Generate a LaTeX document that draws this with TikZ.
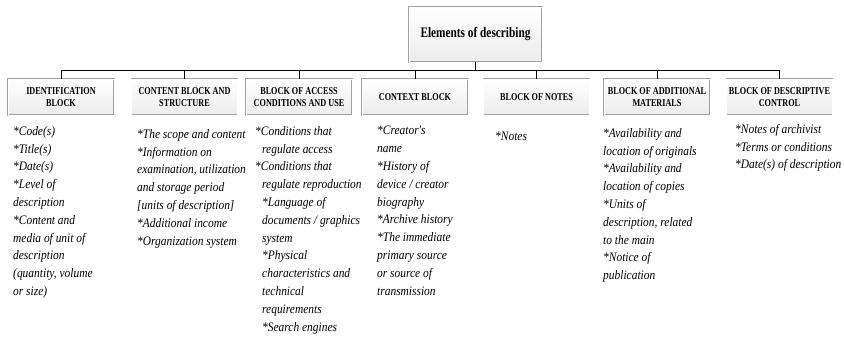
\documentclass[tikz,border=0pt]{standalone}
\usepackage{fontspec}
\setmainfont{Liberation Serif}
\newfontfamily\headfont[FakeStretch=0.78]{Liberation Serif}
\newfontfamily\listfont[FakeStretch=0.88]{Liberation Serif}
\definecolor{boxline}{RGB}{160,160,160}
\definecolor{boxfill}{RGB}{236,236,236}
\usepackage{tikz}
\usetikzlibrary{positioning,calc}

\begin{document}
\begin{tikzpicture}[x=1pt, y=1pt,
    blockbox/.style={draw=boxline, double=white, double distance=0.8pt, top color=white, bottom color=boxfill,
        minimum width=106pt, minimum height=36pt, inner sep=1pt, align=center,
        font=\headfont\fontsize{10.5}{11.5}\selectfont\bfseries},
    itemlist/.style={anchor=north west, inner sep=0pt, align=left,
        font=\listfont\fontsize{13}{17.8}\selectfont\itshape, execute at begin node=\strut}]
    \useasboundingbox (0,0) rectangle (844,337);

    % Root
    \node[blockbox, minimum width=133pt, minimum height=55pt,
        font=\headfont\fontsize{14.5}{16}\selectfont\bfseries] (elem) at (475.5,302.5) {Elements of describing};

    % Seven blocks
    \node[blockbox] (ident) at (61,240) {IDENTIFICATION\\BLOCK};
    \node[blockbox] (content) at (184.5,240) {CONTENT BLOCK AND\\STRUCTURE};
    \node[blockbox] (access) at (299,240) {BLOCK OF ACCESS\\CONDITIONS AND USE};
    \node[blockbox] (context) at (415,240) {CONTEXT BLOCK};
    \node[blockbox] (notes) at (536.5,240) {BLOCK OF NOTES};
    \node[blockbox] (addmat) at (657,240) {BLOCK OF ADDITIONAL\\MATERIALS};
    \node[blockbox] (control) at (779.5,240) {BLOCK OF DESCRIPTIVE\\CONTROL};

    % Lines
    \coordinate (bus) at (475.5,267);
    \draw (elem) -- (bus);
    \draw (ident.north) -- (ident.north |- bus) -- (control.north |- bus) -- (control.north);
    \foreach \b in {content,access,context,notes,addmat}
        \draw (\b.north) -- (\b.north |- bus);

    % Contents of the blocks
    \node[itemlist] (identtxt) at (13,211) {*Code(s)\\*Title(s)\\*Date(s)\\*Level of\\description\\*Content and\\media of unit of\\description\\(quantity, volume\\or size)};
    \node[itemlist] (contenttxt) at (137,208) {*The scope and content\\*Information on\\examination, utilization\\and storage period\\{[units of description]}\\*Additional income\\*Organization system};
    \node[itemlist] (accesstxt) at (262,211) {\hspace*{-7pt}*Conditions that\\regulate access\\\hspace*{-7pt}*Conditions that\\regulate reproduction\\*Language of\\documents / graphics\\system\\*Physical\\characteristics and\\technical\\requirements\\*Search engines};
    \node[itemlist] (contexttxt) at (377,211) {*Creator's\\name\\*History of\\device / creator\\biography\\*Archive history\\*The immediate\\primary source\\or source of\\transmission};
    \node[itemlist] (notestxt) at (495,209) {*Notes};
    \node[itemlist] (addmattxt) at (603,209) {*Availability and\\location of originals\\*Availability and\\location of copies\\*Units of\\description, related\\to the main\\*Notice of\\publication};
    \node[itemlist] (controltxt) at (735,213) {*Notes of archivist\\*Terms or conditions\\*Date(s) of description};
\end{tikzpicture}
\end{document}
